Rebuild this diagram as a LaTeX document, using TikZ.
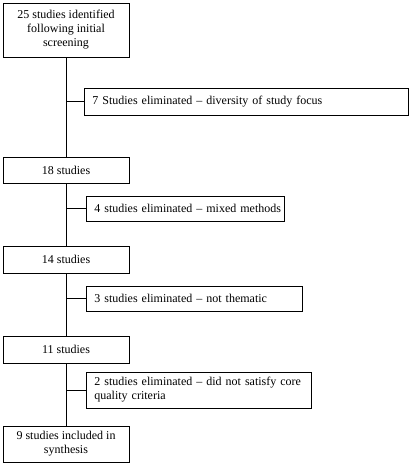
\documentclass[tikz,border=0pt]{standalone}
\usepackage{fontspec}
\setmainfont{Liberation Serif}

\begin{document}
\begin{tikzpicture}[x=1pt,y=-1pt,line width=0.8pt,
    stagebox/.style={draw,minimum width=126pt,align=center,inner sep=2pt,font=\fontsize{12}{14}\selectfont},
    dropbox/.style={draw,anchor=west,align=left,inner sep=0pt,font=\fontsize{12}{14}\selectfont}]
        \useasboundingbox (0,0) rectangle (411,465);

        % main stages
        \node[stagebox,minimum height=54pt] (s25) at (66,30) {25 studies identified\\following initial\\screening};
        \node[stagebox,minimum height=26pt] (s18) at (66,170) {18 studies};
        \node[stagebox,minimum height=27pt] (s14) at (66,259.5) {14 studies};
        \node[stagebox,minimum height=27pt] (s11) at (66,349.5) {11 studies};
        \node[stagebox,minimum height=36pt] (s9) at (66,444) {9 studies included in\\synthesis};

        % eliminated studies
        \node[dropbox,minimum width=324pt,minimum height=27pt,text width=324pt] (e7) at (84,101.5) {\hspace*{8pt}7 Studies eliminated -- diversity of study focus};
        \node[dropbox,minimum width=198pt,minimum height=25pt,text width=198pt] (e4) at (86,208.5) {\hspace*{8pt}4 studies eliminated -- mixed methods};
        \node[dropbox,minimum width=216pt,minimum height=25pt,text width=216pt] (e3) at (86,298.5) {\hspace*{8pt}3 studies eliminated -- not thematic};
        \node[dropbox,minimum width=225pt,minimum height=36pt,text width=225pt] (e2) at (86,390) {\hspace*{8pt}2 studies eliminated -- did not satisfy core\\\hspace*{8pt}quality criteria};

        % spine and branches
        \draw (s25) -- (s18) -- (s14) -- (s11) -- (s9);
        \draw (s25.south |- e7.west) -- (e7.west);
        \draw (s18.south |- e4.west) -- (e4.west);
        \draw (s14.south |- e3.west) -- (e3.west);
        \draw (s11.south |- e2.west) -- (e2.west);
      \end{tikzpicture}
\end{document}
